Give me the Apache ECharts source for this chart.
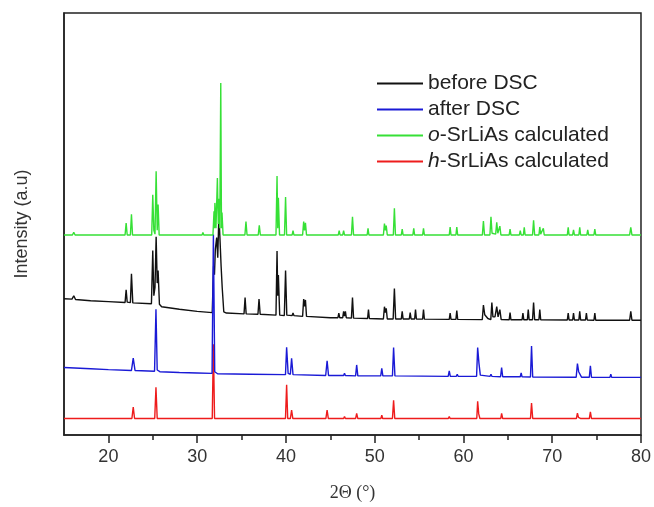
<!DOCTYPE html>
<html lang="en">
<head>
    <meta charset="UTF-8">
    <title>XRD SrLiAs</title>
    <style>
        html, body { margin: 0; padding: 0; background: #fff; }
    </style>
</head>
<body>
<div id="main" style="width: 654px;height:507px;"></div>
<script src="https://cdn.jsdelivr.net/npm/echarts@6/dist/echarts.min.js"></script>
<script>
    // tick positions on the 2theta axis
    var xTicks = [20, 30, 40, 50, 60, 70, 80];
    var xMinorTicks = [25, 35, 45, 55, 65, 75];

    var seriesNames = ['before DSC', 'after DSC', 'o-SrLiAs calculated', 'h-SrLiAs calculated'];

    // [2theta, intensity] (intensity offset per pattern)
    var beforeDSC = [
        [15, 32.3], [15.9, 32.2], [16.1, 33.0], [16.3, 32.1], [18, 31.8], [20, 31.6],
        [21.88, 31.4], [22.0, 34.4], [22.12, 31.5], [22.48, 31.4], [22.6, 38.2], [22.75, 31.3],
        [24.85, 31.1], [25.0, 43.7], [25.12, 33], [25.25, 35], [25.38, 47], [25.5, 36], [25.6, 39], [25.75, 31.0], [26.0, 30.4],
        [28, 29.8], [30, 29.3],
        [31.7, 29.0], [31.85, 40], [31.95, 38], [32.05, 44], [32.2, 46.8], [32.32, 42], [32.45, 52.3], [32.6, 45], [32.7, 40], [32.82, 35], [33.0, 29.2], [33.3, 28.9],
        [35.28, 28.7], [35.4, 32.6], [35.52, 28.7],
        [36.85, 28.6], [36.97, 32.2], [37.1, 28.6],
        [38.88, 28.4], [39.0, 43.6], [39.08, 33], [39.15, 37.9], [39.3, 28.4],
        [39.82, 28.3], [39.96, 39.0], [40.1, 28.4],
        [40.7, 28.3], [40.8, 28.9], [40.9, 28.3],
        [41.88, 28.1], [42.0, 32.2], [42.1, 30.5], [42.2, 32.0], [42.32, 28.1],
        [45, 27.8], [45.86, 27.8], [45.96, 28.9], [46.06, 27.8],
        [46.4, 27.8], [46.5, 29.3], [46.6, 28.2], [46.7, 29.3], [46.8, 27.8],
        [47.38, 27.7], [47.5, 32.6], [47.62, 27.7],
        [49.2, 27.6], [49.3, 29.7], [49.4, 27.6],
        [50.98, 27.5], [51.1, 30.4], [51.2, 29.0], [51.3, 30.0], [51.42, 27.5],
        [52.08, 27.5], [52.22, 34.7], [52.36, 27.5],
        [53.0, 27.5], [53.1, 29.3], [53.2, 27.5],
        [53.9, 27.5], [54.0, 29.0], [54.1, 27.5],
        [54.5, 27.5], [54.6, 29.7], [54.7, 27.5],
        [55.4, 27.45], [55.5, 29.7], [55.6, 27.45],
        [58.4, 27.4], [58.5, 28.9], [58.6, 27.4],
        [59.15, 27.4], [59.25, 29.5], [59.35, 27.4],
        [62.12, 27.35], [62.25, 30.8], [62.4, 28.5], [62.6, 28.2], [62.75, 27.6],
        [63.08, 27.35], [63.2, 31.4], [63.32, 28.0], [63.55, 28.0], [63.75, 30.4], [63.9, 28.0], [64.1, 29.7], [64.25, 27.35],
        [65.15, 27.3], [65.25, 29.0], [65.35, 27.3],
        [66.6, 27.3], [66.7, 28.9], [66.8, 27.3],
        [67.2, 27.3], [67.3, 29.7], [67.4, 27.3],
        [67.78, 27.3], [67.9, 31.4], [68.02, 27.3],
        [68.5, 27.3], [68.6, 29.7], [68.7, 27.3],
        [71.7, 27.25], [71.8, 28.9], [71.9, 27.25],
        [72.3, 27.25], [72.4, 28.9], [72.5, 27.25],
        [73.0, 27.25], [73.1, 29.3], [73.2, 27.25],
        [73.75, 27.25], [73.85, 28.9], [73.95, 27.25],
        [74.7, 27.2], [74.8, 28.9], [74.9, 27.2],
        [78.72, 27.2], [78.85, 29.3], [78.98, 27.2],
        [80, 27.2]
    ];

    var afterDSC = [
        [15, 16.0], [18, 15.7], [20, 15.5],
        [22.6, 15.3], [22.8, 18.2], [23.0, 15.3],
        [25.2, 15.1], [25.36, 29.8], [25.5, 15.4], [25.8, 15.0],
        [28, 14.8], [30, 14.7],
        [31.68, 14.6], [31.83, 47.5], [31.98, 15.0], [32.3, 14.5],
        [36, 14.4],
        [39.95, 14.3], [40.08, 20.8], [40.25, 14.6], [40.5, 14.4], [40.64, 18.2], [40.8, 14.3],
        [44.48, 14.1], [44.64, 17.6], [44.8, 14.1],
        [46.5, 14.1], [46.6, 14.6], [46.7, 14.1],
        [47.85, 14.0], [47.97, 16.6], [48.1, 14.0],
        [50.68, 14.0], [50.8, 15.8], [50.92, 14.0],
        [52.0, 14.0], [52.13, 20.7], [52.28, 14.0],
        [58.28, 13.9], [58.4, 15.2], [58.52, 13.9],
        [59.2, 13.9], [59.3, 14.4], [59.4, 13.9],
        [61.48, 13.9], [61.6, 20.7], [61.75, 16.9], [61.9, 14.2], [62.1, 13.9],
        [63.0, 13.9], [63.1, 14.4], [63.2, 13.9],
        [64.18, 13.8], [64.3, 16.0], [64.42, 13.8],
        [66.4, 13.8], [66.5, 14.7], [66.6, 13.8],
        [67.55, 13.75], [67.67, 21.1], [67.8, 13.75],
        [72.7, 13.7], [72.84, 16.9], [72.98, 15.0], [73.15, 15.2], [73.3, 13.7],
        [74.18, 13.7], [74.3, 16.4], [74.42, 13.7],
        [76.5, 13.65], [76.6, 14.4], [76.7, 13.65],
        [80, 13.65]
    ];

    var oCalc = [
        [15, 47.4], [15.95, 47.4], [16.1, 48.0], [16.25, 47.4],
        [21.88, 47.4], [22.0, 50.2], [22.12, 47.4], [22.48, 47.4], [22.6, 52.3], [22.72, 47.4],
        [24.88, 47.4], [25.0, 56.9], [25.12, 48.5], [25.25, 47.6], [25.38, 62.5], [25.5, 48.5], [25.6, 54.6], [25.72, 47.4],
        [30.55, 47.4], [30.65, 48.0], [30.75, 47.4],
        [31.78, 47.4], [31.9, 53], [31.95, 49], [32.0, 55.0], [32.12, 49], [32.28, 60.9], [32.38, 50], [32.45, 56], [32.55, 49], [32.66, 83.4], [32.74, 49], [32.8, 52.7], [32.92, 47.4],
        [35.38, 47.4], [35.5, 50.6], [35.62, 47.4],
        [36.88, 47.4], [37.0, 49.7], [37.12, 47.4],
        [38.88, 47.4], [39.0, 61.4], [39.08, 49], [39.15, 56.2], [39.28, 47.4],
        [39.84, 47.4], [39.96, 56.4], [40.08, 47.4],
        [40.7, 47.4], [40.8, 48.4], [40.9, 47.4],
        [41.88, 47.4], [42.0, 50.6], [42.1, 48.5], [42.2, 50.3], [42.32, 47.4],
        [45.9, 47.4], [46.0, 48.4], [46.1, 47.4],
        [46.4, 47.4], [46.5, 48.4], [46.6, 47.4],
        [47.38, 47.4], [47.5, 51.7], [47.62, 47.4],
        [49.15, 47.4], [49.25, 49.0], [49.35, 47.4],
        [50.98, 47.4], [51.1, 50.1], [51.2, 48.5], [51.3, 49.6], [51.42, 47.4],
        [52.1, 47.4], [52.22, 53.7], [52.34, 47.4],
        [53.0, 47.4], [53.1, 48.8], [53.2, 47.4],
        [54.3, 47.4], [54.4, 49.0], [54.5, 47.4],
        [55.4, 47.4], [55.5, 49.0], [55.6, 47.4],
        [58.4, 47.4], [58.5, 49.3], [58.6, 47.4],
        [59.15, 47.4], [59.25, 49.3], [59.35, 47.4],
        [62.13, 47.4], [62.25, 50.7], [62.37, 47.4],
        [62.98, 47.4], [63.1, 51.7], [63.22, 47.8], [63.63, 47.6], [63.75, 50.4], [63.87, 47.8], [64.1, 49.5], [64.22, 47.4],
        [65.15, 47.4], [65.25, 48.8], [65.35, 47.4],
        [66.3, 47.4], [66.4, 48.4], [66.5, 47.4],
        [66.75, 47.4], [66.85, 49.2], [66.95, 47.4],
        [67.78, 47.4], [67.9, 50.9], [68.02, 47.4],
        [68.5, 47.4], [68.6, 49.3], [68.7, 47.6], [68.9, 47.6], [69.0, 49.0], [69.1, 47.4],
        [71.7, 47.4], [71.8, 49.2], [71.9, 47.4],
        [72.3, 47.4], [72.4, 48.6], [72.5, 47.4],
        [73.0, 47.4], [73.1, 49.2], [73.2, 47.4],
        [73.9, 47.4], [74.0, 48.6], [74.1, 47.4],
        [74.7, 47.4], [74.8, 48.8], [74.9, 47.4],
        [78.72, 47.4], [78.85, 49.2], [78.98, 47.4],
        [80, 47.4]
    ];

    var hCalc = [
        [15, 3.9],
        [22.65, 3.9], [22.8, 6.6], [22.95, 3.9],
        [25.22, 3.9], [25.36, 11.3], [25.5, 3.9],
        [31.7, 3.9], [31.83, 21.5], [31.96, 3.9],
        [39.95, 3.9], [40.08, 11.9], [40.2, 3.9], [40.5, 3.9], [40.64, 5.9], [40.78, 3.9],
        [44.5, 3.9], [44.64, 5.9], [44.78, 3.9],
        [46.5, 3.9], [46.6, 4.4], [46.7, 3.9],
        [47.85, 3.9], [47.97, 5.1], [48.1, 3.9],
        [50.7, 3.9], [50.8, 4.7], [50.9, 3.9],
        [52.0, 3.9], [52.13, 8.2], [52.26, 3.9],
        [58.3, 3.9], [58.4, 4.4], [58.5, 3.9],
        [61.5, 3.9], [61.6, 8.0], [61.72, 5.0], [61.85, 3.9],
        [63.0, 3.9], [63.1, 4.2], [63.2, 3.9],
        [64.2, 3.9], [64.3, 5.1], [64.42, 3.9],
        [66.4, 3.9], [66.5, 4.2], [66.6, 3.9],
        [67.55, 3.9], [67.67, 7.6], [67.8, 3.9],
        [72.72, 3.9], [72.84, 5.2], [72.95, 4.2], [73.1, 4.6], [73.22, 3.9],
        [74.18, 3.9], [74.3, 5.5], [74.42, 3.9],
        [76.5, 3.9], [76.6, 4.2], [76.7, 3.9],
        [80, 3.9]
    ];

    var chart = echarts.init(document.getElementById('main'));

    function lineSeries(name, data, color) {
        return {
            name: name,
            type: 'line',
            data: data,
            showSymbol: false,
            symbol: 'none',
            silent: true,
            lineStyle: { color: color, width: 1.4 },
            itemStyle: { color: color }
        };
    }

    var option = {
        animation: false,
        backgroundColor: '#fff',
        grid: {
            left: 64,
            right: 11,
            top: 13,
            bottom: 67,
            show: true,
            borderColor: '#222',
            borderWidth: 1.5
        },
        legend: {
            data: seriesNames,
            orient: 'vertical',
            left: 377,
            top: 73,
            padding: 0,
            icon: 'rect',
            itemWidth: 46,
            itemHeight: 2,
            itemGap: 5,
            selectedMode: false,
            formatter: function (name) {
                if (name.indexOf('o-') === 0 || name.indexOf('h-') === 0) {
                    return '{it|' + name.charAt(0) + '}' + name.slice(1);
                }
                return name;
            },
            textStyle: {
                fontFamily: 'Liberation Sans',
                fontSize: 21,
                color: '#222',
                rich: {
                    it: { fontFamily: 'Liberation Sans', fontSize: 21, fontStyle: 'italic', color: '#222' }
                }
            }
        },
        xAxis: [
            {
                type: 'value',
                min: 15,
                max: 80,
                name: '2\u0398 (\u00b0)',
                nameLocation: 'middle',
                nameGap: 49,
                nameTextStyle: { fontFamily: 'Liberation Serif', fontSize: 18, color: '#333' },
                axisLine: { show: true, lineStyle: { color: '#222', width: 1.5 } },
                axisTick: { show: true, inside: false, length: 8, customValues: xTicks, lineStyle: { color: '#222', width: 1.5 } },
                axisLabel: { customValues: xTicks, margin: 13, fontFamily: 'Liberation Sans', fontSize: 18, color: '#333' },
                splitLine: { show: false }
            },
            {
                // second axis only for the short ticks between the labelled ones
                type: 'value',
                min: 15,
                max: 80,
                position: 'bottom',
                axisLine: { show: false },
                axisTick: { show: true, inside: false, length: 5, customValues: xMinorTicks, lineStyle: { color: '#222', width: 1.5 } },
                axisLabel: { show: false },
                splitLine: { show: false }
            }
        ],
        yAxis: {
            type: 'value',
            min: 0,
            max: 100,
            name: 'Intensity (a.u)',
            nameLocation: 'middle',
            nameGap: 33,
            nameRotate: 90,
            nameTextStyle: { fontFamily: 'Liberation Sans', fontSize: 18, color: '#333' },
            axisLine: { show: true, lineStyle: { color: '#222', width: 1.5 } },
            axisTick: { show: false },
            axisLabel: { show: false },
            splitLine: { show: false }
        },
        series: [
            lineSeries(seriesNames[3], hCalc, '#ee1c1c'),
            lineSeries(seriesNames[0], beforeDSC, '#111111'),
            lineSeries(seriesNames[1], afterDSC, '#1a1ad6'),
            lineSeries(seriesNames[2], oCalc, '#36e036')
        ]
    };

    chart.setOption(option);
</script>
</body>
</html>
